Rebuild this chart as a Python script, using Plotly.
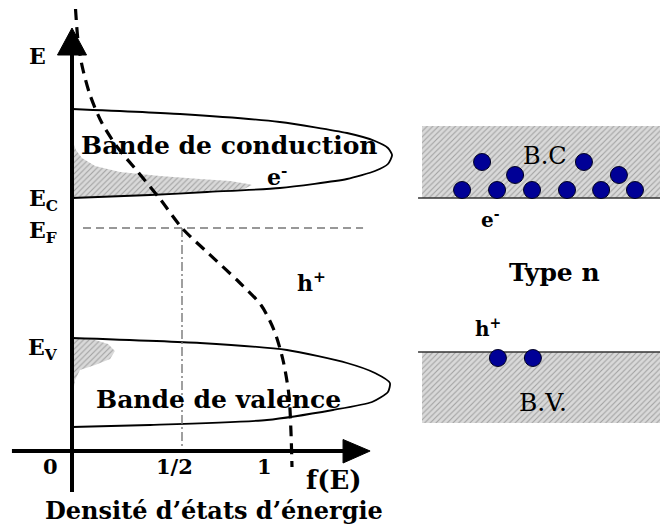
import plotly.graph_objects as go

# ---------------- data (f(E) on x, energy E on y, arbitrary units) ----------------
# conduction band density-of-states loop
cb_f = [0, 0.491, 0.945, 1.25, 1.377, 1.436, 1.455, 1.436, 1.377, 1.25, 0.945, 0.614, 0.355, 0]
cb_E = [3.42, 3.37, 3.29, 3.18, 3.10, 3.03, 2.96, 2.87, 2.80, 2.72, 2.63, 2.59, 2.56, 2.53]
# electrons in conduction band (hatched)
el_f = [0, 0.018, 0.045, 0.105, 0.218, 0.40, 0.582, 0.718, 0.80, 0.818, 0.773, 0.614, 0.355, 0]
el_E = [3.11, 3.01, 2.93, 2.85, 2.79, 2.75, 2.72, 2.70, 2.67, 2.66, 2.61, 2.59, 2.56, 2.53]
# valence band density-of-states loop
vb_f = [0, 0.582, 0.977, 1.25, 1.377, 1.445, 1.436, 1.364, 1.186, 0.886, 0.355, 0]
vb_E = [1.13, 1.08, 1.01, 0.88, 0.78, 0.68, 0.59, 0.49, 0.41, 0.31, 0.26, 0.24]
# holes in valence band (hatched)
ho_f = [0, 0.105, 0.164, 0.195, 0.173, 0.105, 0.036, 0.014, 0.005, 0]
ho_E = [1.13, 1.11, 1.07, 1.00, 0.92, 0.86, 0.81, 0.71, 0.59, 0.51]
# Fermi-Dirac distribution f(E)
fd_f = [0.016, 0.027, 0.045, 0.082, 0.136, 0.209, 0.30, 0.40, 0.50, 0.623, 0.759, 0.859, 0.918, 0.959, 0.986, 0.995, 1.0]
fd_E = [4.42, 4.11, 3.86, 3.56, 3.28, 3.03, 2.79, 2.52, 2.23, 1.97, 1.69, 1.46, 1.21, 0.91, 0.56, 0.21, -0.16]

E_C = 2.53
E_F = 2.23
E_V = 1.13
F_HALF = 0.5

# right panel (band scheme, type n)
bc_box_f = [1.591, 2.70]
bc_box_E = [2.53, 3.25]
bv_box_f = [1.591, 2.70]
bv_box_E = [0.28, 0.99]
electron_f = [1.773, 1.932, 2.091, 2.25, 2.405, 2.559, 2.014, 2.486, 1.864, 2.327]
electron_E = [2.61, 2.61, 2.61, 2.61, 2.61, 2.61, 2.76, 2.76, 2.89, 2.89]
hole_f = [1.936, 2.095]
hole_E = [0.93, 0.93]

tick_labels = ["0", "1/2", "1"]
tick_f = [-0.10, 0.468, 0.877]

HATCH = dict(shape="/", fgcolor="#6a6a6a", bgcolor="#d9d9d9", size=4, solidity=0.28)
BLACK = "black"
FONT = "DejaVu Serif"

fig = go.Figure()

def add_line(x, y, **kw):
    fig.add_trace(go.Scatter(x=x, y=y, mode="lines", hoverinfo="skip", cliponaxis=False, **kw))

# hatched areas
add_line(el_f, el_E, fill="toself", fillpattern=HATCH, fillcolor="#d9d9d9", line=dict(width=0))
add_line(ho_f, ho_E, fill="toself", fillpattern=HATCH, fillcolor="#d9d9d9", line=dict(width=0))
add_line([bc_box_f[0], bc_box_f[1], bc_box_f[1], bc_box_f[0], bc_box_f[0]],
         [bc_box_E[0], bc_box_E[0], bc_box_E[1], bc_box_E[1], bc_box_E[0]],
         fill="toself", fillpattern=HATCH, fillcolor="#d9d9d9", line=dict(width=0))
add_line([bv_box_f[0], bv_box_f[1], bv_box_f[1], bv_box_f[0], bv_box_f[0]],
         [bv_box_E[0], bv_box_E[0], bv_box_E[1], bv_box_E[1], bv_box_E[0]],
         fill="toself", fillpattern=HATCH, fillcolor="#d9d9d9", line=dict(width=0))
# band edges of right panel
add_line([1.573, 2.70], [bc_box_E[0], bc_box_E[0]], line=dict(color="#333", width=1.5))
add_line([1.573, 2.70], [bv_box_E[1], bv_box_E[1]], line=dict(color="#333", width=1.5))

# band loops
add_line(cb_f, cb_E, line=dict(color=BLACK, width=1.8, shape="spline", smoothing=0.6))
add_line(vb_f, vb_E, line=dict(color=BLACK, width=1.8, shape="spline", smoothing=0.6))

# Fermi level and f=1/2 guide
add_line([0.05, 1.323], [E_F, E_F], line=dict(color="#777", width=1.6, dash="8px,5px"))
add_line([F_HALF, F_HALF], [E_F, 0], line=dict(color="#777", width=1.4, dash="9px,3px,2px,3px"))

# Fermi-Dirac curve
add_line(fd_f, fd_E, line=dict(color=BLACK, width=3.2, dash="11px,7px", shape="spline", smoothing=0.8))

# axes with arrows
add_line([0, 0], [-0.41, 3.98], line=dict(color=BLACK, width=4))
add_line([-0.273, 1.24], [0, 0], line=dict(color=BLACK, width=4))
add_line([0, -0.066, 0.066, 0], [4.23, 3.96, 3.96, 4.23], fill="toself", fillcolor=BLACK, line=dict(color=BLACK, width=1))
add_line([1.355, 1.232, 1.232, 1.355], [0, 0.115, -0.12, 0], fill="toself", fillcolor=BLACK, line=dict(color=BLACK, width=1))

# carriers
fig.add_trace(go.Scatter(x=electron_f, y=electron_E, mode="markers", hoverinfo="skip", cliponaxis=False,
                         marker=dict(size=17, color="#000096", line=dict(color="#000022", width=1))))
fig.add_trace(go.Scatter(x=hole_f, y=hole_E, mode="markers", hoverinfo="skip", cliponaxis=False,
                         marker=dict(size=17, color="#000096", line=dict(color="#000022", width=1))))

def label(x, y, text, size, bold=True, color=BLACK, xanchor="center"):
    fig.add_annotation(x=x, y=y, text=text, showarrow=False, xanchor=xanchor, yanchor="middle",
                       font=dict(family=FONT, size=size, color=color, weight="bold" if bold else "normal"))

label(-0.155, 3.95, "E", 22)
label(-0.13, 2.51, "E<sub>C</sub>", 22)
label(-0.13, 2.19, "E<sub>F</sub>", 22)
label(-0.13, 1.02, "E<sub>V</sub>", 22)
label(0.715, 3.06, "Bande de conduction", 25)
label(0.93, 2.75, "e<sup>-</sup>", 22)
label(1.09, 1.69, "h<sup>+</sup>", 22)
label(0.664, 0.52, "Bande de valence", 25)
for tf, tl in zip(tick_f, tick_labels):
    label(tf, -0.155, tl, 21)
label(1.19, -0.29, "f(E)", 26)
label(0.645, -0.59, "Densité d’états d’énergie", 24)
label(2.15, 2.95, "B.C", 24, bold=False)
label(1.9, 2.32, "e<sup>-</sup>", 20)
label(2.195, 1.79, "Type n", 25)
label(1.891, 1.23, "h<sup>+</sup>", 20)
label(2.141, 0.49, "B.V.", 25, bold=False)

# the page body adds an 8px offset, so the figure covers the remaining 660x520 pixels
fig.update_layout(
    width=660, height=520, margin=dict(l=0, r=0, t=0, b=0),
    paper_bgcolor="white", plot_bgcolor="white", showlegend=False,
    xaxis=dict(range=[-64 / 220, 596 / 220], visible=False, fixedrange=True),
    yaxis=dict(range=[-0.77, 4.43], visible=False, fixedrange=True),
)
fig.write_html("out.html")
